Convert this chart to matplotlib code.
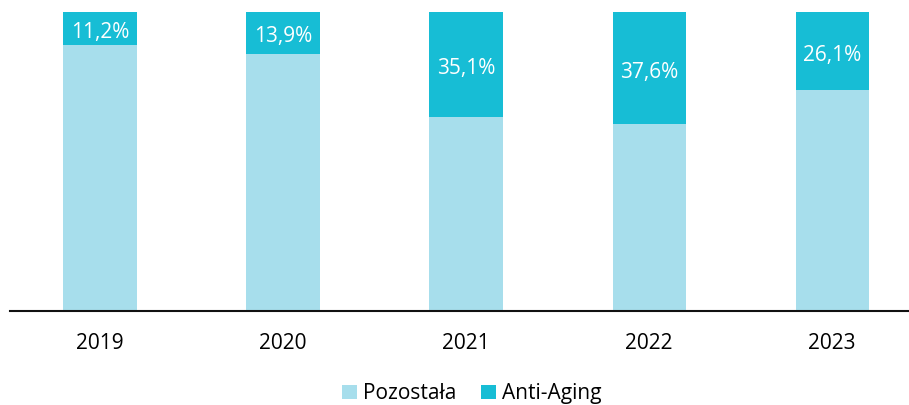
import matplotlib.pyplot as plt
import numpy as np

years = ["2019", "2020", "2021", "2022", "2023"]
anti_aging = [11.2, 13.9, 35.1, 37.6, 26.1]
other = [100 - v for v in anti_aging]

c_other = "#A7DEEC"
c_anti = "#17BDD5"

plt.rcParams["font.family"] = ["Open Sans", "DejaVu Sans"]

fig = plt.figure(figsize=(9.09, 4.05), dpi=100)
ax = fig.add_axes([10 / 909, 94 / 405, 899 / 909, 299 / 405])

x = np.arange(len(years))
w = 0.4
ax.bar(x, other, width=w, color=c_other, label="Pozostała")
ax.bar(x, anti_aging, width=w, bottom=other, color=c_anti, label="Anti-Aging")

for xi, o, a in zip(x, other, anti_aging):
    ax.annotate(f"{a:.1f}%".replace(".", ","), (xi, o + a / 2), xytext=(0, -3),
                textcoords="offset points", ha="center", va="center",
                color="white", fontsize=15)

ax.set_xlim(-0.492, 4.42)
ax.set_ylim(0, 100)
ax.set_xticks(x)
ax.set_xticklabels(years, fontsize=15)
ax.tick_params(axis="x", length=0, pad=16)
ax.set_yticks([])
for s in ["top", "right", "left"]:
    ax.spines[s].set_visible(False)
ax.spines["bottom"].set_linewidth(1.5)
ax.spines["bottom"].set_color("#111111")

fig.legend(loc="upper center", bbox_to_anchor=(472 / 909, 30 / 405), ncol=2, frameon=False,
           fontsize=15, handlelength=0.7, handleheight=0.7, handletextpad=0.3,
           columnspacing=1.2, borderaxespad=0)

fig.savefig("out.png", dpi=100)
